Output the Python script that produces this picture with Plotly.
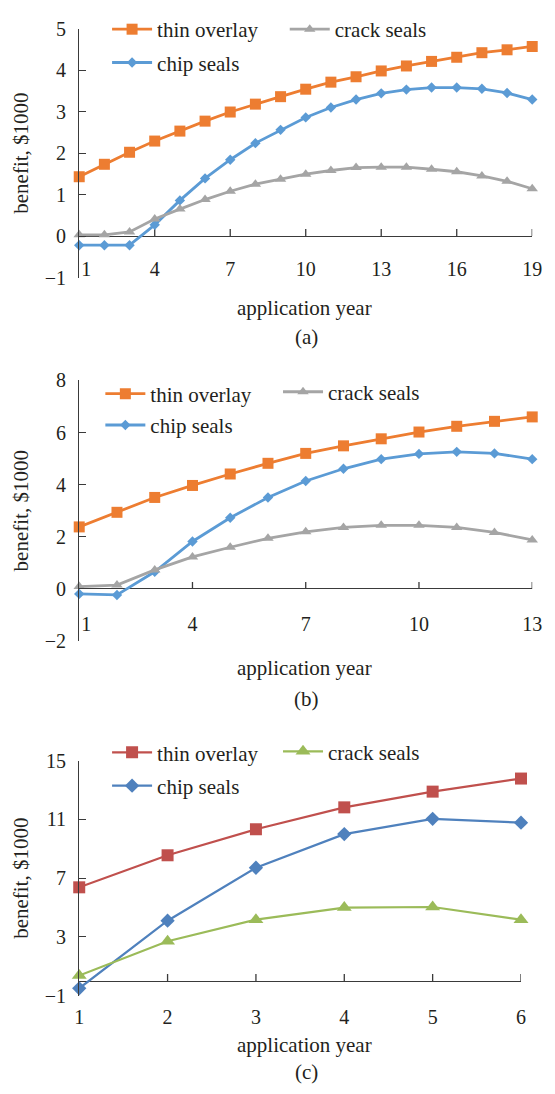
import plotly.graph_objects as go

W, H = 555, 1094

# ---- data ----
years_a = list(range(1, 20))
thin_a = [1.43, 1.73, 2.02, 2.29, 2.53, 2.77, 2.99, 3.18, 3.36, 3.54,
          3.71, 3.84, 3.98, 4.10, 4.21, 4.31, 4.42, 4.49, 4.57]
chip_a = [-0.22, -0.22, -0.22, 0.27, 0.86, 1.39, 1.84, 2.24, 2.56, 2.86,
          3.10, 3.29, 3.44, 3.53, 3.58, 3.58, 3.55, 3.45, 3.29]
crack_a = [0.03, 0.03, 0.10, 0.41, 0.65, 0.88, 1.08, 1.25, 1.37, 1.49,
           1.58, 1.65, 1.66, 1.66, 1.61, 1.55, 1.45, 1.32, 1.14]

years_b = list(range(1, 14))
thin_b = [2.38, 2.94, 3.51, 3.97, 4.41, 4.82, 5.20, 5.49, 5.76, 6.02, 6.24, 6.43, 6.60]
chip_b = [-0.19, -0.23, 0.66, 1.82, 2.73, 3.51, 4.14, 4.61, 4.98, 5.18, 5.26, 5.20, 4.98]
crack_b = [0.09, 0.15, 0.73, 1.23, 1.60, 1.94, 2.19, 2.36, 2.44, 2.44, 2.36, 2.17, 1.88]

years_c = list(range(1, 7))
thin_c = [6.38, 8.56, 10.33, 11.82, 12.89, 13.78]
chip_c = [-0.49, 4.11, 7.71, 10.00, 11.04, 10.78]
crack_c = [0.38, 2.71, 4.18, 5.00, 5.04, 4.18]

xticks_a = [1, 4, 7, 10, 13, 16, 19]
xticks_b = [1, 4, 7, 10, 13]
xticks_c = [1, 2, 3, 4, 5, 6]
yticks_a = [-1, 0, 1, 2, 3, 4, 5]
yticks_b = [-2, 0, 2, 4, 6, 8]
yticks_c = [-1, 3, 7, 11, 15]

series_names = ["thin overlay", "chip seals", "crack seals"]
panel_labels = ["(a)", "(b)", "(c)"]
x_title = "application year"
y_title = "benefit, $1000"

# ---- styling ----
FONT = "Liberation Serif, Times New Roman, serif"
TXT = "#231f20"
AX = "#3a3a3a"


def fx(px):
    return px / W


def fy(px):
    return 1 - px / H


panels = [
    dict(years=years_a, data=[thin_a, chip_a, crack_a], xt=xticks_a, yt=yticks_a,
         xr=[1, 19], yr=[-1, 5], left=70, right=541.7, top=18, bottom=272,
         tickpos=249, shift_first=True,
         colors=["#ED7D31", "#5B9BD5", "#A5A5A5"],
         symbols=["square", "diamond", "triangle-up"], sizes=[11, 8, 10], lw=2.8,
         leg1=(99, -2), leg2=(284, -2), gap=3, xtitle_y=303, plabel_y=333),
    dict(years=years_b, data=[thin_b, chip_b, crack_b], xt=xticks_b, yt=yticks_b,
         xr=[1, 13], yr=[-2, 8], left=70, right=541.7, top=377, bottom=643,
         tickpos=611, shift_first=True,
         colors=["#ED7D31", "#5B9BD5", "#A5A5A5"],
         symbols=["square", "diamond", "triangle-up"], sizes=[11, 8, 10], lw=2.8,
         leg1=(92, 370), leg2=(277, 368), gap=1, xtitle_y=670, plabel_y=702),
    dict(years=years_c, data=[thin_c, chip_c, crack_c], xt=xticks_c, yt=yticks_c,
         xr=[1, 6], yr=[-1, 15], left=70, right=530, top=765, bottom=1005,
         tickpos=1012, shift_first=False,
         colors=["#C0504D", "#4F81BD", "#9BBB59"],
         symbols=["square", "diamond", "triangle-up"], sizes=[12, 11, 13], lw=2.2,
         leg1=(99, 736), leg2=(277, 735), gap=3, xtitle_y=1055, plabel_y=1083),
]

fig = go.Figure()
shapes = []
annotations = []
layout = {}

for i, p in enumerate(panels):
    n = i + 1
    xa = "x" if n == 1 else f"x{n}"
    ya = "y" if n == 1 else f"y{n}"
    xkey = "xaxis" if n == 1 else f"xaxis{n}"
    ykey = "yaxis" if n == 1 else f"yaxis{n}"
    lg1 = "legend" if n == 1 else f"legend{2 * n - 1}"
    lg2 = f"legend{2 * n}"

    for k, (name, vals) in enumerate(zip(series_names, p["data"])):
        fig.add_trace(go.Scatter(
            x=p["years"], y=vals, name=name, mode="lines+markers",
            xaxis=xa, yaxis=ya, cliponaxis=False,
            line=dict(color=p["colors"][k], width=p["lw"]),
            marker=dict(symbol=p["symbols"][k], size=p["sizes"][k], color=p["colors"][k]),
            legend=lg2 if k == 2 else lg1,
            legendgroup=f"{n}-{k}",
        ))

    ticktext = [str(t) for t in p["xt"]]
    if p["shift_first"]:
        ticktext[0] = "\u2002\u2009" + ticktext[0]

    layout[xkey] = dict(
        domain=[fx(p["left"]), fx(p["right"])], range=p["xr"],
        anchor="free", position=fy(p["tickpos"]),
        tickmode="array", tickvals=p["xt"], ticktext=ticktext,
        ticks="", showline=False, showgrid=False, zeroline=False,
        tickfont=dict(family=FONT, size=20, color=TXT),
    )
    layout[ykey] = dict(
        domain=[fy(p["bottom"]), fy(p["top"])], range=p["yr"], anchor=xa,
        tickmode="array", tickvals=p["yt"],
        ticks="inside", ticklen=7, tickwidth=1.3, tickcolor=AX,
        showline=True, linecolor=AX, linewidth=1.3,
        zeroline=True, zerolinecolor=AX, zerolinewidth=1.3,
        showgrid=False, ticklabelstandoff=8,
        tickfont=dict(family=FONT, size=20, color=TXT),
        title=dict(text=y_title, font=dict(family=FONT, size=21, color=TXT), standoff=10),
    )

    # upward tick marks on the horizontal axis line at y = 0
    for t in p["xt"][1:]:
        shapes.append(dict(
            type="line", xref=xa, yref=ya, x0=t, x1=t,
            ysizemode="pixel", yanchor=0, y0=0, y1=7,
            line=dict(color=AX, width=1.3), layer="below",
        ))

    for key, (lx, ly) in ((lg1, p["leg1"]), (lg2, p["leg2"])):
        layout[key] = dict(
            x=fx(lx), y=fy(ly), xanchor="left", yanchor="top",
            orientation="v", bgcolor="rgba(0,0,0,0)", borderwidth=0,
            tracegroupgap=p["gap"], itemwidth=40,
            font=dict(family=FONT, size=21, color=TXT),
        )

    annotations.append(dict(
        text=x_title, xref="paper", yref="paper", x=fx(305), y=fy(p["xtitle_y"]),
        xanchor="center", yanchor="middle", showarrow=False,
        font=dict(family=FONT, size=21, color=TXT),
    ))
    annotations.append(dict(
        text=panel_labels[i], xref="paper", yref="paper", x=fx(307), y=fy(p["plabel_y"]),
        xanchor="center", yanchor="middle", showarrow=False,
        font=dict(family=FONT, size=21, color=TXT),
    ))

fig.update_layout(
    width=W, height=H,
    margin=dict(l=0, r=0, t=0, b=0),
    paper_bgcolor="white", plot_bgcolor="white",
    showlegend=True,
    shapes=shapes, annotations=annotations,
    **layout,
)

fig.write_html("out.html")
